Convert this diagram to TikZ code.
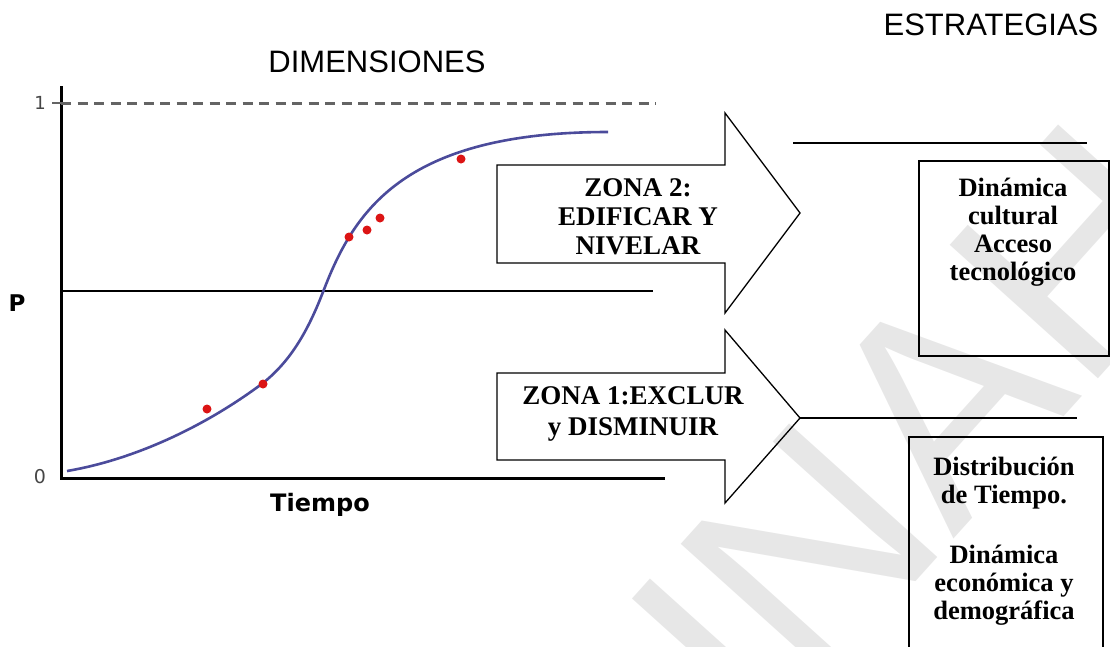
\documentclass[tikz,border=0pt]{standalone}
\usepackage{fontspec}
\setmainfont{Liberation Serif}
\newfontfamily\arialf{Liberation Sans}
\newfontfamily\dejaf{DejaVu Sans}
\definecolor{curveblue}{RGB}{75,75,155}
\definecolor{dotred}{RGB}{220,20,20}
\definecolor{labgray}{RGB}{70,70,70}
\definecolor{dashgray}{RGB}{100,100,100}
\definecolor{wmgray}{RGB}{231,231,231}
\begin{document}
\begin{tikzpicture}[x=1pt,y=-1pt,
  axisline/.style={line width=3pt, line cap=rect},
  sigmoid/.style={line width=2.6pt, color=curveblue},
  datadot/.style={circle, fill=dotred, inner sep=0pt, minimum size=9pt},
  bigarrow/.style={draw, line width=1.3pt, line join=miter},
  zonetext/.style={font=\bfseries\fontsize{27}{29}\selectfont, align=center, inner sep=0pt, anchor=north},
  boxtext/.style={font=\bfseries\fontsize{26.5}{28}\selectfont, align=center, inner sep=0pt, anchor=north},
  stratbox/.style={draw, line width=1.5pt, inner sep=0pt, anchor=north west},
  thinline/.style={line width=1.3pt},
  title/.style={font=\arialf\fontsize{31}{31}\selectfont, inner sep=0pt}
]
\useasboundingbox (0,0) rectangle (1110,646);
\clip (0,0) rectangle (1110,646);

% watermark
\node[font=\arialf\fontsize{290}{290}\selectfont, text=wmgray, rotate=48, inner sep=0pt] (wm) at (875,480) {UNAH};

% titles
\node[title] (dim) at (377,62) {DIMENSIONES};
\node[title] (est) at (991,25) {ESTRATEGIAS};

% axes
\coordinate (ytop) at (61,87);
\coordinate (orig) at (61,478);
\coordinate (xend) at (663,478);
\draw[axisline] (ytop) -- (orig) -- (xend);
\coordinate (tick1) at (52,103);
\coordinate (dash0) at (61,103);
\coordinate (dash1) at (656,103);
\draw[dashgray, line width=1.5pt] (tick1) -- (dash0);
\draw[dashgray, line width=3pt, dash pattern=on 10pt off 6.5pt] (dash0) -- (dash1);
\coordinate (mid0) at (61,291);
\coordinate (mid1) at (653,291);
\draw[thinline] (mid0) -- (mid1);

\node[font=\dejaf\fontsize{18}{18}\selectfont, text=labgray, inner sep=0pt] (one) at (40,103) {1};
\node[font=\dejaf\fontsize{19}{19}\selectfont, text=labgray, inner sep=0pt] (zero) at (40,477) {0};
\node[font=\dejaf\bfseries\fontsize{23}{23}\selectfont, inner sep=0pt] (plab) at (17,303) {P};
\node[font=\dejaf\bfseries\fontsize{24}{24}\selectfont, inner sep=0pt] (tlab) at (320,505) {Tiempo};

% curve
\coordinate (cstart) at (67,471);
\coordinate (clow) at (263,383);
\coordinate (cmid) at (323,292);
\coordinate (cend) at (608,132);
\draw[sigmoid] (cstart) .. controls (132,460) and (203,428) .. (clow)
  .. controls (288,363) and (306,336) .. (cmid)
  .. controls (353,214) and (400,132) .. (cend);

% data points
\node[datadot] (d1) at (207,409) {};
\node[datadot] (d2) at (263,384) {};
\node[datadot] (d3) at (349,237) {};
\node[datadot] (d4) at (367,230) {};
\node[datadot] (d5) at (380,218) {};
\node[datadot] (d6) at (461,159) {};

% arrows
\draw[bigarrow] (497,165) -- (725,165) -- (725,113) -- (800,213) -- (725,313) -- (725,263) -- (497,263) -- cycle;
\draw[bigarrow] (497,373) -- (725,373) -- (725,330) -- (800,418) -- (725,503) -- (725,460) -- (497,460) -- cycle;
\node[zonetext] (z2) at (638,178) {ZONA 2:\\EDIFICAR Y\\NIVELAR};
\node[zonetext, font=\bfseries\fontsize{27}{31}\selectfont] (z1) at (633,386) {ZONA 1:EXCLUR\\y DISMINUIR};

% lines to strategies
\coordinate (u1) at (793,143);
\coordinate (u2) at (1087,143);
\draw[thinline] (u1) -- (u2);
\coordinate (tip1) at (800,418);
\coordinate (l2) at (1077,418);
\draw[thinline] (tip1) -- (l2);

% boxes
\node[stratbox, minimum width=190pt, minimum height=195pt] (b1) at (918,160) {};
\node[boxtext] (t1) at (1013,178) {Dinámica\\cultural\\Acceso\\tecnológico};
\node[stratbox, minimum width=194pt, minimum height=230pt] (b2) at (908,436) {};
\node[boxtext] (t2) at (1004,457) {Distribución\\de Tiempo.\\[32pt]Dinámica\\económica y\\demográfica};
\end{tikzpicture}
\end{document}
